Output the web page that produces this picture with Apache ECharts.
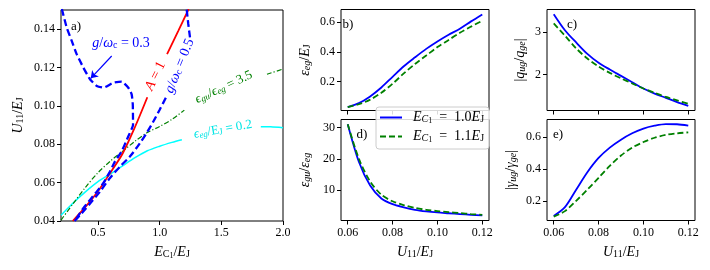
<!DOCTYPE html>
<html><head><meta charset="utf-8">
<script src="https://cdn.jsdelivr.net/npm/echarts@6/dist/echarts.min.js"></script>
<style>html,body{margin:0;padding:0;background:#fff}#c{width:710px;height:270px}</style>
</head><body><div id="c"></div>
<script>
// ---------- DATA ----------
// Panel a: contour-like curves in (E_C1/E_J, U11/E_J)
const cyanSeg1 = [[0.2,0.0430],[0.3,0.0495],[0.4,0.0553],[0.5,0.0605],[0.6,0.0645],[0.7,0.0688],[0.8,0.0730],[0.9,0.0766],[1.0,0.0790],[1.1,0.0810],[1.18,0.0824]];
const cyanSeg2 = [[1.82,0.0892],[1.9,0.0891],[2.0,0.0886]];
const greenSeg1 = [[0.2,0.0405],[0.3,0.0492],[0.4,0.0577],[0.5,0.0652],[0.6,0.0712],[0.7,0.0764],[0.8,0.0816],[0.9,0.0861],[1.0,0.0893],[1.1,0.0930],[1.2,0.0978]];
const greenSeg2 = [[1.87,0.1165],[2.0,0.1192]];
const redSeg1 = [[0.295,0.0400],[0.4,0.0475],[0.5,0.0555],[0.6,0.0652],[0.7,0.0752],[0.8,0.0890],[0.9,0.1045]];
const redSeg2 = [[1.06,0.1270],[1.15,0.1390],[1.235,0.1505]];
const blue03 = [[0.207,0.1505],[0.246,0.1409],[0.287,0.1339],[0.327,0.1270],[0.381,0.1200],[0.435,0.1139],[0.49,0.1104],[0.543,0.1095],[0.624,0.1121],[0.692,0.1127],[0.746,0.1095],[0.773,0.1060],[0.782,0.1008],[0.784,0.0900],[0.772,0.0878],[0.746,0.0842],[0.692,0.0763],[0.638,0.0711],[0.597,0.0658],[0.543,0.0597],[0.49,0.0553],[0.435,0.0510],[0.381,0.0467],[0.327,0.0414],[0.313,0.0400]];
const blue05Seg1 = [[0.310,0.0400],[0.368,0.0440],[0.449,0.0501],[0.516,0.0553],[0.597,0.0624],[0.679,0.0684],[0.76,0.0737],[0.841,0.0807],[0.9,0.0865],[0.95,0.0920],[1.0,0.0980],[1.057,0.1051]];
const blue05Seg2 = [[1.246,0.1357],[1.232,0.1427],[1.219,0.1505]];
const arrow03 = [[0.611,0.1260],[0.441,0.1144]];

// Panels b-e: shared x values U11/E_J
const U11 = [0.06,0.065,0.07,0.075,0.08,0.085,0.09,0.095,0.10,0.105,0.11,0.115,0.12];
const epsEg10 = [0.028,0.055,0.100,0.160,0.232,0.303,0.363,0.420,0.470,0.515,0.556,0.605,0.652];
const epsEg11 = [0.028,0.047,0.078,0.125,0.185,0.255,0.318,0.375,0.432,0.480,0.528,0.570,0.609];
const qRatio10 = [3.43,3.05,2.76,2.49,2.28,2.12,1.97,1.82,1.67,1.55,1.45,1.35,1.26];
const qRatio11 = [3.21,2.92,2.62,2.38,2.19,2.04,1.91,1.79,1.67,1.57,1.47,1.39,1.31];
const epsRatio10 = [31,19,11.5,7.4,5.6,4.6,3.8,3.3,2.95,2.7,2.45,2.2,2.0];
const epsRatio11 = [31,20,12.8,8.6,6.5,5.3,4.4,3.8,3.4,3.05,2.75,2.45,2.2];
const gRatio10 = [0.105,0.160,0.270,0.380,0.470,0.535,0.585,0.625,0.655,0.673,0.683,0.682,0.673];
const gRatio11 = [0.100,0.135,0.200,0.270,0.345,0.420,0.485,0.535,0.570,0.597,0.615,0.625,0.631];

// Tick values
const ticksAx = [0.5,1.0,1.5,2.0];
const ticksAy = [0.04,0.06,0.08,0.10,0.12,0.14];
const ticksU = [0.06,0.08,0.10,0.12];
const ticksBy = [0.2,0.4,0.6];
const ticksCy = [2,3];
const ticksDy = [10,20,30];
const ticksEy = [0.2,0.4,0.6];

// ---------- STYLE HELPERS ----------
const FF = "'Liberation Serif','DejaVu Serif',serif";
function rich(color, size) {
  size = size || 14;
  const base = {fontFamily: FF, color: color, fill: color};
  return {
    i: Object.assign({}, base, {fontSize: size, fontStyle: 'italic', lineHeight: size + 1, padding: [0,0,4,0], verticalAlign: 'top'}),
    r: Object.assign({}, base, {fontSize: size, lineHeight: size + 1, padding: [0,0,4,0], verticalAlign: 'top'}),
    s: Object.assign({}, base, {fontSize: Math.round(size*0.7), lineHeight: Math.round(size*0.75), padding: [0,0,1,0], verticalAlign: 'bottom'}),
    si: Object.assign({}, base, {fontSize: Math.round(size*0.7), fontStyle: 'italic', lineHeight: Math.round(size*0.75), padding: [0,0,1,0], verticalAlign: 'bottom'}),
    ss: Object.assign({}, base, {fontSize: Math.round(size*0.55), lineHeight: Math.round(size*0.55), padding: [0,0,0,0], verticalAlign: 'bottom'})
  };
}
const RICH = rich('#000', 14);
const zip = (xs, ys) => xs.map((x, i) => [x, ys[i]]);

function xAx(gi, min, max, ticks, showLabels, digits, name, gap) {
  return {
    gridIndex: gi, type: 'value', min: min, max: max,
    axisLine: {show: false}, splitLine: {show: false},
    axisTick: {show: true, customValues: ticks, length: 4, lineStyle: {color: '#000', width: 1}},
    axisLabel: {show: showLabels, customValues: ticks, formatter: v => Number(v).toFixed(digits), margin: 6, color: '#000', fontFamily: FF, fontSize: 12},
    name: name || '', nameLocation: 'middle', nameGap: gap || 0, nameTextStyle: {rich: RICH}
  };
}
function yAx(gi, min, max, ticks, digits, name, gap) {
  return {
    gridIndex: gi, type: 'value', min: min, max: max,
    axisLine: {show: false}, splitLine: {show: false},
    axisTick: {show: true, customValues: ticks, length: 4, lineStyle: {color: '#000', width: 1}},
    axisLabel: {show: true, customValues: ticks, formatter: v => Number(v).toFixed(digits), margin: 6, color: '#000', fontFamily: FF, fontSize: 12},
    name: name, nameLocation: 'middle', nameRotate: 90, nameGap: gap, nameTextStyle: {rich: RICH}
  };
}
function ln(gi, data, color, width, type, name, z) {
  return {
    type: 'line', name: name, xAxisIndex: gi, yAxisIndex: gi, data: data,
    symbol: 'none', showSymbol: false, smooth: 0.3, silent: true, z: z || 2,
    lineStyle: {color: color, width: width, type: type || 'solid'}, itemStyle: {color: color},
    animation: false
  };
}

const gridBase = {show: true, borderColor: '#000', borderWidth: 1, backgroundColor: 'transparent', containLabel: false};
const L10 = 'E_C1 = 1.0E_J', L11 = 'E_C1 = 1.1E_J';

const series = [
  ln(0, cyanSeg1, '#00ffff', 1.5), ln(0, cyanSeg2, '#00ffff', 1.5),
  ln(0, greenSeg1, '#008000', 1.2, [5,2,1.2,2]), ln(0, greenSeg2, '#008000', 1.2, [5,2,1.2,2]),
  ln(0, redSeg1, '#ff0000', 1.8), ln(0, redSeg2, '#ff0000', 1.8),
  Object.assign(ln(0, blue03, '#0000ff', 2.3, [7,3.5], undefined, 3), {smooth: 0.15}),
  ln(0, blue05Seg1, '#0000ff', 2.3, [7,3.5], undefined, 3), ln(0, blue05Seg2, '#0000ff', 2.3, [7,3.5], undefined, 3),
  {type: 'lines', coordinateSystem: 'cartesian2d', xAxisIndex: 0, yAxisIndex: 0, silent: true, animation: false,
   symbol: ['none', 'arrow'], symbolSize: 7, lineStyle: {color: '#0000ff', width: 1.2, opacity: 1, curveness: 0},
   data: [{coords: arrow03}], z: 4},
  ln(1, zip(U11, epsEg10), '#0000ff', 1.8, 'solid', L10), ln(1, zip(U11, epsEg11), '#008000', 1.8, [6,3], L11),
  ln(2, zip(U11, qRatio10), '#0000ff', 1.8, 'solid', L10), ln(2, zip(U11, qRatio11), '#008000', 1.8, [6,3], L11),
  ln(3, zip(U11, epsRatio10), '#0000ff', 1.8, 'solid', L10), ln(3, zip(U11, epsRatio11), '#008000', 1.8, [6,3], L11),
  ln(4, zip(U11, gRatio10), '#0000ff', 1.8, 'solid', L10), ln(4, zip(U11, gRatio11), '#008000', 1.8, [6,3], L11)
];

const option = {
  animation: false,
  backgroundColor: '#fff',
  grid: [
    Object.assign({left: 61, top: 10, width: 222, height: 211}, gridBase),
    Object.assign({left: 341, top: 9.5, width: 148, height: 101}, gridBase),
    Object.assign({left: 547, top: 9.5, width: 148, height: 101}, gridBase),
    Object.assign({left: 341, top: 119.5, width: 148, height: 101}, gridBase),
    Object.assign({left: 547, top: 119.5, width: 148, height: 101}, gridBase)
  ],
  xAxis: [
    xAx(0, 0.2, 2.0, ticksAx, true, 1, '{i|E}{s|C}{ss|1}{r|/}{i|E}{s|J}', 24),
    xAx(1, 0.057, 0.123, ticksU, false, 2),
    xAx(2, 0.057, 0.123, ticksU, false, 2),
    xAx(3, 0.057, 0.123, ticksU, true, 2, '{i|U}{s|11}{r|/}{i|E}{s|J}', 25),
    xAx(4, 0.057, 0.123, ticksU, true, 2, '{i|U}{s|11}{r|/}{i|E}{s|J}', 25)
  ],
  yAxis: [
    yAx(0, 0.04, 0.15, ticksAy, 2, '{i|U}{s|11}{r|/}{i|E}{s|J}', 35),
    yAx(1, 0.005, 0.685, ticksBy, 1, '{i|ε}{si|eg}{r|/}{i|E}{s|J}', 28),
    yAx(2, 1.15, 3.54, ticksCy, 0, '{r||}{i|q}{si|ug}{r|/}{i|q}{si|ge}{r||}', 18),
    yAx(3, 0.4, 32.5, ticksDy, 0, '{i|ε}{si|gu}{r|/}{i|ε}{si|eg}', 28),
    yAx(4, 0.076, 0.712, ticksEy, 1, '{r||}{i|γ}{si|ug}{r|/}{i|γ}{si|ge}{r||}', 28)
  ],
  legend: {
    left: 376, top: 107, orient: 'vertical', data: [L10, L11], selectedMode: false,
    itemWidth: 22, itemHeight: 12, itemGap: 1, padding: [3, 5, 2, 3],
    itemStyle: {opacity: 0},
    backgroundColor: 'rgba(255,255,255,0.85)', borderColor: '#cccccc', borderWidth: 1, borderRadius: 3,
    formatter: n => n === L10 ? '{i|E}{si|C}{ss|1}{r|  =  1.0}{i|E}{s|J}' : '{i|E}{si|C}{ss|1}{r|  =  1.1}{i|E}{s|J}',
    textStyle: {rich: rich('#000', 14), padding: [0, 0, 0, 6]}, z: 10
  },
  series: series
};

const chart = echarts.init(document.getElementById('c'), null, {renderer: 'canvas'});
chart.setOption(option);

// ---------- annotations (positioned through the axes) ----------
function px(x, y) { return chart.convertToPixel({xAxisIndex: 0, yAxisIndex: 0}, [x, y]); }
function txt(x, y, text, color, rotDeg, size) {
  const p = px(x, y);
  return {type: 'text', x: p[0], y: p[1], rotation: (rotDeg || 0) * Math.PI / 180, z: 100, silent: true,
    style: {text: text, rich: rich(color, size || 14), align: 'center', verticalAlign: 'middle', fill: color, font: '14px ' + FF}};
}
function plain(x, y, text) {
  return {type: 'text', x: x, y: y, z: 100, silent: true,
    style: {text: text, fill: '#000', font: '13px ' + FF, align: 'center', verticalAlign: 'middle'}};
}
chart.setOption({
  graphic: [
    txt(0.687, 0.1322, '{i|g}{r|/}{i|ω}{s|c}{r| = 0.3}', '#0000ff', 0),
    txt(0.969, 0.1155, '{i|A}{r| = 1}', '#ff0000', 63.5),
    txt(1.165, 0.1207, '{i|g}{r|/}{i|ω}{s|c}{r| = 0.5}', '#0000ff', 68),
    txt(1.522, 0.1095, '{i|ϵ}{si|gu}{r|/}{i|ϵ}{si|eg}{r| = 3.5}', '#008000', 25, 13),
    txt(1.514, 0.0875, '{i|ϵ}{si|eg}{r|/}{r|E}{s|J}{r| = 0.2}', '#00e5e5', 10, 13),
    plain(76, 27, 'a)'),
    plain(348, 25, 'b)'),
    plain(572, 25, 'c)'),
    plain(362, 135, 'd)'),
    plain(558, 135, 'e)')
  ]
});
</script>
</body></html>
